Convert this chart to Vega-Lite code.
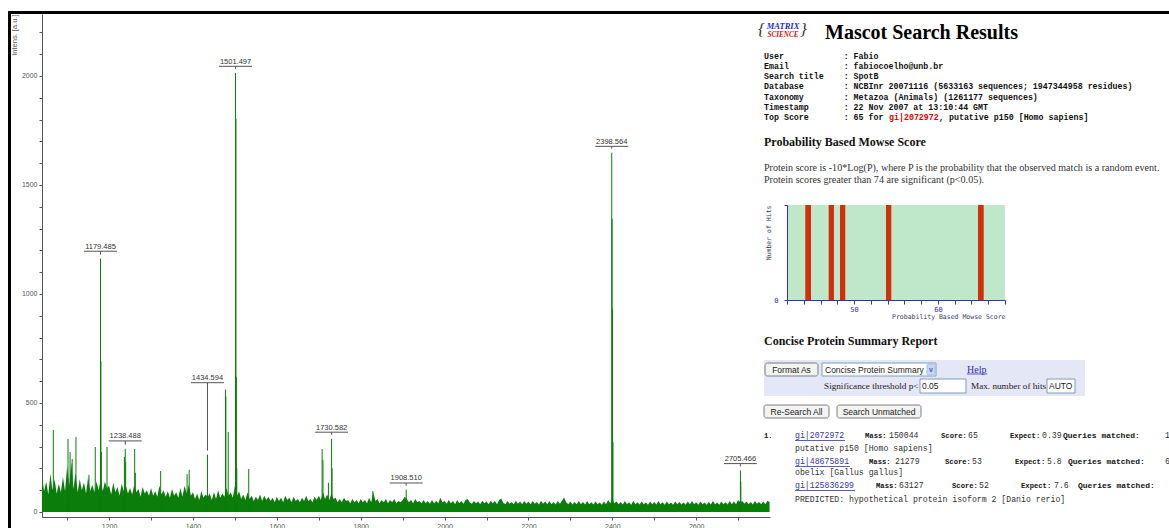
{
"$schema":"https://vega.github.io/schema/vega-lite/v6.json",
"padding":{"left":6,"top":9,"right":0,"bottom":0},
"bounds":"flush",
"spacing":0,
"config":{"view":{"stroke":null},"font":"Liberation Sans","axis":{"grid":false}},
"vconcat":[
 {"width":1163,"height":3,"view":{"fill":"#000000","stroke":null},"data":{"values":[{}]},"mark":{"type":"point","opacity":0},"encoding":{}},
 {"hconcat":[
  {"width":3,"height":516,"view":{"fill":"#000000","stroke":null},"data":{"values":[{}]},"mark":{"type":"point","opacity":0},"encoding":{}},
  {"hconcat":[
   {"width":728,"height":503,
    "encoding":{
     "x":{"field":"m","type":"quantitative","scale":{"domain":[1040,2776],"nice":false,"zero":false},
      "axis":{"values":[1100,1200,1300,1400,1500,1600,1700,1800,1900,2000,2100,2200,2300,2400,2500,2600,2700],"labelExpr":"datum.value % 200 === 0 ? datum.label : ''","format":"d","title":null,"domainColor":"#555555","tickColor":"#555555","tickSize":3,"labelFontSize":7,"labelColor":"#555555","labelPadding":2,"labelOverlap":false,"labelFlush":false}},
     "y":{"field":"i","type":"quantitative","scale":{"domain":[-23,2284],"nice":false,"zero":false},
      "axis":{"values":[0,100,200,300,400,500,600,700,800,900,1000,1100,1200,1300,1400,1500,1600,1700,1800,1900,2000,2100,2200],"labelExpr":"datum.value % 500 === 0 ? datum.label : ''","format":"d","title":"Intens. [a.u.]","titleAnchor":"end","titleFontSize":7.5,"titleFontWeight":"normal","titleColor":"#555555","titlePadding":3,"domainColor":"#555555","tickColor":"#555555","tickSize":3,"labelFontSize":7,"labelColor":"#555555","labelPadding":2,"labelOverlap":false,"labelFlush":false}}
    },
    "layer":[
     {"data":{"values":[
{"m":1040,"i":165},{"m":1045,"i":95},{"m":1050,"i":140},{"m":1055,"i":80},{"m":1060,"i":175},{"m":1065,"i":100},{"m":1070,"i":150},{"m":1075,"i":85},{"m":1080,"i":130},{"m":1085,"i":90},{"m":1090,"i":160},{"m":1095,"i":95},
{"m":1100,"i":210},{"m":1105,"i":120},{"m":1110,"i":230},{"m":1115,"i":105},{"m":1120,"i":180},{"m":1125,"i":90},{"m":1130,"i":150},{"m":1135,"i":100},{"m":1140,"i":135},{"m":1145,"i":85},{"m":1150,"i":160},{"m":1155,"i":95},{"m":1160,"i":125},{"m":1165,"i":90},{"m":1170,"i":140},{"m":1175,"i":100},{"m":1180,"i":150},{"m":1185,"i":95},{"m":1190,"i":140},{"m":1195,"i":110},
{"m":1200,"i":120},{"m":1205,"i":80},{"m":1210,"i":135},{"m":1215,"i":90},{"m":1220,"i":115},{"m":1225,"i":75},{"m":1230,"i":130},{"m":1235,"i":95},{"m":1240,"i":120},{"m":1245,"i":85},{"m":1250,"i":110},{"m":1255,"i":80},{"m":1260,"i":125},{"m":1265,"i":90},{"m":1270,"i":105},{"m":1275,"i":70},{"m":1280,"i":115},{"m":1285,"i":85},{"m":1290,"i":100},{"m":1295,"i":75},
{"m":1300,"i":110},{"m":1305,"i":75},{"m":1310,"i":95},{"m":1315,"i":70},{"m":1320,"i":120},{"m":1325,"i":80},{"m":1330,"i":100},{"m":1335,"i":70},{"m":1340,"i":95},{"m":1345,"i":65},{"m":1350,"i":105},{"m":1355,"i":75},{"m":1360,"i":90},{"m":1365,"i":65},{"m":1370,"i":110},{"m":1375,"i":70},{"m":1380,"i":120},{"m":1385,"i":85},{"m":1390,"i":125},{"m":1395,"i":75},
{"m":1400,"i":90},{"m":1405,"i":60},{"m":1410,"i":85},{"m":1415,"i":55},{"m":1420,"i":95},{"m":1425,"i":65},{"m":1430,"i":80},{"m":1435,"i":70},{"m":1440,"i":85},{"m":1445,"i":55},{"m":1450,"i":90},{"m":1455,"i":60},{"m":1460,"i":100},{"m":1465,"i":65},{"m":1470,"i":85},{"m":1475,"i":70},{"m":1480,"i":110},{"m":1485,"i":75},{"m":1490,"i":90},{"m":1495,"i":65},
{"m":1500,"i":120},{"m":1505,"i":75},{"m":1510,"i":95},{"m":1515,"i":60},{"m":1520,"i":80},{"m":1525,"i":55},{"m":1530,"i":90},{"m":1535,"i":60},{"m":1540,"i":75},{"m":1545,"i":50},{"m":1550,"i":70},{"m":1555,"i":55},{"m":1560,"i":80},{"m":1565,"i":50},{"m":1570,"i":75},{"m":1575,"i":55},{"m":1580,"i":70},{"m":1585,"i":50},{"m":1590,"i":65},{"m":1595,"i":45},
{"m":1600,"i":70},{"m":1605,"i":50},{"m":1610,"i":65},{"m":1615,"i":45},{"m":1620,"i":75},{"m":1625,"i":55},{"m":1630,"i":65},{"m":1635,"i":45},{"m":1640,"i":70},{"m":1645,"i":50},{"m":1650,"i":60},{"m":1655,"i":45},{"m":1660,"i":65},{"m":1665,"i":50},{"m":1670,"i":75},{"m":1675,"i":50},{"m":1680,"i":60},{"m":1685,"i":45},{"m":1690,"i":70},{"m":1695,"i":55},
{"m":1700,"i":75},{"m":1705,"i":55},{"m":1710,"i":90},{"m":1715,"i":60},{"m":1720,"i":80},{"m":1725,"i":55},{"m":1730,"i":85},{"m":1735,"i":60},{"m":1740,"i":65},{"m":1745,"i":45},{"m":1750,"i":60},{"m":1755,"i":45},{"m":1760,"i":65},{"m":1765,"i":50},{"m":1770,"i":55},{"m":1775,"i":40},{"m":1780,"i":60},{"m":1785,"i":45},{"m":1790,"i":55},{"m":1795,"i":40},
{"m":1800,"i":60},{"m":1805,"i":45},{"m":1810,"i":55},{"m":1815,"i":40},{"m":1820,"i":65},{"m":1825,"i":45},{"m":1830,"i":90},{"m":1835,"i":50},{"m":1840,"i":60},{"m":1845,"i":40},{"m":1850,"i":55},{"m":1855,"i":45},{"m":1860,"i":60},{"m":1865,"i":40},{"m":1870,"i":55},{"m":1875,"i":45},{"m":1880,"i":60},{"m":1885,"i":40},{"m":1890,"i":50},{"m":1895,"i":45},
{"m":1900,"i":55},{"m":1905,"i":70},{"m":1910,"i":60},{"m":1915,"i":45},{"m":1920,"i":55},{"m":1925,"i":40},{"m":1930,"i":60},{"m":1935,"i":45},{"m":1940,"i":50},{"m":1945,"i":40},{"m":1950,"i":55},{"m":1955,"i":40},{"m":1960,"i":50},{"m":1965,"i":38},{"m":1970,"i":55},{"m":1975,"i":40},{"m":1980,"i":50},{"m":1985,"i":40},{"m":1990,"i":65},{"m":1995,"i":45},
{"m":2000,"i":50},{"m":2005,"i":38},{"m":2010,"i":55},{"m":2015,"i":40},{"m":2020,"i":50},{"m":2025,"i":35},{"m":2030,"i":55},{"m":2035,"i":40},{"m":2040,"i":50},{"m":2045,"i":38},{"m":2050,"i":55},{"m":2055,"i":60},{"m":2060,"i":45},{"m":2065,"i":38},{"m":2070,"i":50},{"m":2075,"i":40},{"m":2080,"i":48},{"m":2085,"i":35},{"m":2090,"i":52},{"m":2095,"i":40},
{"m":2100,"i":48},{"m":2105,"i":36},{"m":2110,"i":52},{"m":2115,"i":40},{"m":2120,"i":50},{"m":2125,"i":35},{"m":2130,"i":55},{"m":2135,"i":62},{"m":2140,"i":42},{"m":2145,"i":36},{"m":2150,"i":50},{"m":2155,"i":38},{"m":2160,"i":46},{"m":2165,"i":35},{"m":2170,"i":52},{"m":2175,"i":38},{"m":2180,"i":48},{"m":2185,"i":36},{"m":2190,"i":50},{"m":2195,"i":38},
{"m":2200,"i":48},{"m":2205,"i":35},{"m":2210,"i":50},{"m":2215,"i":38},{"m":2220,"i":46},{"m":2225,"i":34},{"m":2230,"i":52},{"m":2235,"i":38},{"m":2240,"i":48},{"m":2245,"i":35},{"m":2250,"i":50},{"m":2255,"i":36},{"m":2260,"i":46},{"m":2265,"i":34},{"m":2270,"i":50},{"m":2275,"i":38},{"m":2280,"i":52},{"m":2285,"i":66},{"m":2290,"i":45},{"m":2295,"i":36},
{"m":2300,"i":48},{"m":2305,"i":34},{"m":2310,"i":46},{"m":2315,"i":36},{"m":2320,"i":50},{"m":2325,"i":35},{"m":2330,"i":46},{"m":2335,"i":34},{"m":2340,"i":50},{"m":2345,"i":36},{"m":2350,"i":45},{"m":2355,"i":34},{"m":2360,"i":48},{"m":2365,"i":36},{"m":2370,"i":44},{"m":2375,"i":33},{"m":2380,"i":48},{"m":2385,"i":35},{"m":2390,"i":55},{"m":2395,"i":40},
{"m":2400,"i":60},{"m":2405,"i":40},{"m":2410,"i":48},{"m":2415,"i":35},{"m":2420,"i":46},{"m":2425,"i":34},{"m":2430,"i":50},{"m":2435,"i":36},{"m":2440,"i":45},{"m":2445,"i":33},{"m":2450,"i":52},{"m":2455,"i":36},{"m":2460,"i":45},{"m":2465,"i":34},{"m":2470,"i":48},{"m":2475,"i":35},{"m":2480,"i":44},{"m":2485,"i":33},{"m":2490,"i":48},{"m":2495,"i":35},
{"m":2500,"i":46},{"m":2505,"i":34},{"m":2510,"i":50},{"m":2515,"i":36},{"m":2520,"i":45},{"m":2525,"i":33},{"m":2530,"i":48},{"m":2535,"i":35},{"m":2540,"i":44},{"m":2545,"i":33},{"m":2550,"i":48},{"m":2555,"i":35},{"m":2560,"i":46},{"m":2565,"i":34},{"m":2570,"i":44},{"m":2575,"i":33},{"m":2580,"i":48},{"m":2585,"i":35},{"m":2590,"i":50},{"m":2595,"i":36},
{"m":2600,"i":45},{"m":2605,"i":33},{"m":2610,"i":48},{"m":2615,"i":36},{"m":2620,"i":44},{"m":2625,"i":33},{"m":2630,"i":46},{"m":2635,"i":34},{"m":2640,"i":50},{"m":2645,"i":35},{"m":2650,"i":44},{"m":2655,"i":33},{"m":2660,"i":48},{"m":2665,"i":36},{"m":2670,"i":45},{"m":2675,"i":34},{"m":2680,"i":50},{"m":2685,"i":36},{"m":2690,"i":48},{"m":2695,"i":35},
{"m":2700,"i":55},{"m":2705,"i":45},{"m":2710,"i":50},{"m":2715,"i":38},{"m":2720,"i":48},{"m":2725,"i":36},{"m":2730,"i":46},{"m":2735,"i":34},{"m":2740,"i":50},{"m":2745,"i":38},{"m":2750,"i":46},{"m":2755,"i":35},{"m":2760,"i":48},{"m":2765,"i":36},{"m":2770,"i":52},{"m":2775,"i":45}
      ]},
      "mark":{"type":"area","color":"#0b7d0b","opacity":1},
      "encoding":{"y2":{"datum":0}}},
     {"data":{"values":[
{"m":1067,"i":376},{"m":1102,"i":335},{"m":1107,"i":275},{"m":1112,"i":243},{"m":1121,"i":344},{"m":1152,"i":170},{"m":1167,"i":298},{"m":1179.485,"i":1162},{"m":1180.49,"i":692},{"m":1181.49,"i":275},{"m":1195,"i":298},{"m":1236.5,"i":252},{"m":1238.488,"i":290},{"m":1239.5,"i":230},{"m":1261,"i":289},{"m":1262.5,"i":180},{"m":1323,"i":188},{"m":1386,"i":174},{"m":1391,"i":193},{"m":1434.594,"i":263},{"m":1477.5,"i":561},{"m":1478.5,"i":530},{"m":1484,"i":367},{"m":1501.497,"i":2014},{"m":1502.5,"i":1803},{"m":1503.5,"i":620},{"m":1504.5,"i":200},{"m":1533,"i":197},{"m":1708,"i":289},{"m":1710,"i":238},{"m":1723,"i":134},{"m":1730.582,"i":336},{"m":1731.6,"i":200},{"m":1829,"i":96},{"m":1908.51,"i":102},{"m":2398.564,"i":1648},{"m":2399.56,"i":1345},{"m":2400.56,"i":930},{"m":2401.56,"i":320},{"m":2705.466,"i":191},{"m":2706.47,"i":140}
      ]},
      "mark":{"type":"rule","color":"#0b7d0b","strokeWidth":1},
      "encoding":{"y2":{"datum":0}}},
     {"data":{"values":[
{"m":1179.485,"i":1196,"p":1162,"t":"1179.485"},
{"m":1238.488,"i":326,"p":290,"t":"1238.488"},
{"m":1434.594,"i":593,"p":263,"t":"1434.594"},
{"m":1501.497,"i":2044,"p":2014,"t":"1501.497"},
{"m":1730.582,"i":366,"p":336,"t":"1730.582"},
{"m":1908.51,"i":133,"p":102,"t":"1908.510"},
{"m":2398.564,"i":1677,"p":1648,"t":"2398.564"},
{"m":2705.466,"i":222,"p":191,"t":"2705.466"}
      ]},
      "layer":[
       {"mark":{"type":"rule","color":"#555555","strokeWidth":1,"xOffset":-16.5,"x2Offset":16.5},"encoding":{"x2":{"field":"m"}}},
       {"mark":{"type":"rule","color":"#555555","strokeWidth":1,"y2Offset":-4},"encoding":{"y2":{"field":"p"}}},
       {"mark":{"type":"text","color":"#333333","fontSize":7.5,"font":"Liberation Sans","baseline":"middle","align":"center","dy":-4.5},"encoding":{"text":{"field":"t","type":"nominal"}}}
      ]}
    ]},
   {"vconcat":[
     {"width":384,"height":191,
      "data":{"values":[
{"ln":1,"col":3.8,"k":"logoM","t":"MATRIX"},
{"ln":2,"col":3.8,"k":"logoS","t":"SCIENCE"},
{"ln":1,"col":-0.5,"k":"brace","t":"{"},
{"ln":1,"col":7.9,"k":"brace","t":"}"},
{"ln":2,"col":12.2,"k":"title","t":"Mascot Search Results"},
{"ln":3,"col":0,"k":"info","t":"User\u00a0\u00a0\u00a0\u00a0\u00a0\u00a0\u00a0\u00a0\u00a0\u00a0\u00a0\u00a0: Fabio"},
{"ln":4,"col":0,"k":"info","t":"Email\u00a0\u00a0\u00a0\u00a0\u00a0\u00a0\u00a0\u00a0\u00a0\u00a0\u00a0: fabiocoelho@unb.br"},
{"ln":5,"col":0,"k":"info","t":"Search title\u00a0\u00a0\u00a0\u00a0: SpotB"},
{"ln":6,"col":0,"k":"info","t":"Database\u00a0\u00a0\u00a0\u00a0\u00a0\u00a0\u00a0\u00a0: NCBInr 20071116 (5633163 sequences; 1947344958 residues)"},
{"ln":7,"col":0,"k":"info","t":"Taxonomy\u00a0\u00a0\u00a0\u00a0\u00a0\u00a0\u00a0\u00a0: Metazoa (Animals) (1261177 sequences)"},
{"ln":8,"col":0,"k":"info","t":"Timestamp\u00a0\u00a0\u00a0\u00a0\u00a0\u00a0\u00a0: 22 Nov 2007 at 13:10:44 GMT"},
{"ln":9,"col":0,"k":"info","t":"Top Score\u00a0\u00a0\u00a0\u00a0\u00a0\u00a0\u00a0: 65 for"},
{"ln":9,"col":25,"k":"red","t":"gi|2072972"},
{"ln":9,"col":35,"k":"info","t":", putative p150 [Homo sapiens]"},
{"ln":10,"col":0,"k":"h2","t":"Probability Based Mowse Score"},
{"ln":11,"col":0,"k":"para","t":"Protein score is -10*Log(P), where P is the probability that the observed match is a random event."},
{"ln":12,"col":0,"k":"para","t":"Protein scores greater than 74 are significant (p<0.05)."}
      ]},
      "encoding":{
       "x":{"field":"col","type":"quantitative","scale":{"domain":[0,80],"range":[-23,377],"nice":false,"zero":false},"axis":null},
       "y":{"field":"ln","type":"quantitative","scale":{"domain":[1,2,3,4,5,6,7,8,9,10,11,12],"range":[11.5,20.5,43,53,63,73,84,94,104,128,154,166],"nice":false,"zero":false},"axis":null},
       "text":{"field":"t","type":"nominal"}
      },
      "layer":[
       {"transform":[{"filter":"datum.k === 'logoM'"}],"mark":{"type":"text","align":"center","baseline":"middle","font":"Liberation Serif","fontStyle":"italic","fontWeight":"bold","fontSize":8.5,"color":"#2a2acc"}},
       {"transform":[{"filter":"datum.k === 'logoS'"}],"mark":{"type":"text","align":"center","baseline":"middle","font":"Liberation Serif","fontStyle":"italic","fontWeight":"bold","fontSize":7.2,"color":"#cc1111"}},
       {"transform":[{"filter":"datum.k === 'brace'"}],"mark":{"type":"text","align":"center","baseline":"middle","font":"Liberation Serif","fontStyle":"italic","fontSize":17,"color":"#333333","dy":4}},
       {"transform":[{"filter":"datum.k === 'title'"}],"mark":{"type":"text","align":"left","baseline":"middle","font":"Liberation Serif","fontWeight":"bold","fontSize":20,"color":"#000000","dy":-1.3}},
       {"transform":[{"filter":"datum.k === 'info'"}],"mark":{"type":"text","align":"left","baseline":"middle","font":"Liberation Mono","fontWeight":"bold","fontSize":8.3,"color":"#111111"}},
       {"transform":[{"filter":"datum.k === 'red'"}],"mark":{"type":"text","align":"left","baseline":"middle","font":"Liberation Mono","fontWeight":"bold","fontSize":8.3,"color":"#dd0000"}},
       {"transform":[{"filter":"datum.k === 'h2'"}],"mark":{"type":"text","align":"left","baseline":"middle","font":"Liberation Serif","fontWeight":"bold","fontSize":12,"color":"#111111"}},
       {"transform":[{"filter":"datum.k === 'para'"}],"mark":{"type":"text","align":"left","baseline":"middle","font":"Liberation Serif","fontSize":10.1,"color":"#333333"}}
      ]},
     {"width":218,"height":95,"view":{"fill":"#bfe8ca","stroke":null},
      "data":{"values":[{"s0":44.18,"s1":44.86,"h":1},{"s0":46.97,"s1":47.6,"h":1},{"s0":48.32,"s1":48.95,"h":1},{"s0":53.81,"s1":54.44,"h":1},{"s0":64.78,"s1":65.46,"h":1}]},
      "mark":{"type":"rect","color":"#d0300c"},
      "encoding":{
       "x":{"field":"s0","type":"quantitative","scale":{"domain":[42,68],"nice":false,"zero":false},
        "axis":{"values":[42,44,46,48,50,52,54,56,58,60,62,64,66,68],"labelExpr":"datum.value % 10 === 0 ? datum.label : ''","title":"Probability Based Mowse Score","titleAnchor":"end","titleFont":"DejaVu Sans Mono","titleFontSize":6.5,"titleFontWeight":"normal","titleColor":"#404060","titlePadding":1,"labelFont":"DejaVu Sans Mono","labelFontSize":7,"labelColor":"#333399","labelPadding":1,"domainColor":"#3333aa","tickColor":"#3333aa","tickSize":4,"labelOverlap":false,"labelFlush":false}},
       "x2":{"field":"s1"},
       "y":{"field":"h","type":"quantitative","scale":{"domain":[0,1],"nice":false,"zero":false},
        "axis":{"values":[0,1],"labelExpr":"datum.value === 0 ? '0' : ''","title":"Number of Hits","titleAnchor":"end","titleFont":"DejaVu Sans Mono","titleFontSize":6.5,"titleFontWeight":"normal","titleColor":"#404060","titlePadding":2,"labelFont":"DejaVu Sans Mono","labelFontSize":7,"labelColor":"#333399","labelPadding":6,"domainColor":"#3333aa","tickColor":"#3333aa","tickSize":3,"labelOverlap":false,"labelFlush":false}},
       "y2":{"datum":0}
      }},
     {"width":384,"height":230,
      "encoding":{
       "x":{"field":"col","type":"quantitative","scale":{"domain":[0,80],"range":[-23,377],"nice":false,"zero":false},"axis":null},
       "y":{"field":"ln","type":"quantitative","scale":{"domain":[1,2,3,4,5,6,7,8,9,10],"range":[41,69.5,86,111.5,136,149,162,173,186,200],"nice":false,"zero":false},"axis":null}
      },
      "layer":[
       {"data":{"values":[
{"k":"formbg","col":0,"col2":64.2,"ln":2,"ln2":3},
{"k":"btn","col":0.2,"col2":10.8,"ln":2,"ln2":2},
{"k":"sel","col":11.6,"col2":34.4,"ln":2,"ln2":2},
{"k":"arrow","col":32.6,"col2":34.2,"ln":2,"ln2":2},
{"k":"inp","col":31.2,"col2":40.4,"ln":3,"ln2":3},
{"k":"inp","col":56.6,"col2":62.2,"ln":3,"ln2":3},
{"k":"btn","col":0,"col2":13,"ln":4,"ln2":4},
{"k":"btn","col":14.6,"col2":31.4,"ln":4,"ln2":4}
        ]},
        "encoding":{"x2":{"field":"col2"},"y2":{"field":"ln2"}},
        "layer":[
         {"transform":[{"filter":"datum.k === 'formbg'"}],"mark":{"type":"rect","fill":"#e4e7f6","yOffset":-9.5,"y2Offset":10}},
         {"transform":[{"filter":"datum.k === 'btn'"}],"mark":{"type":"rect","fill":"#f3f3f1","stroke":"#7a7a7a","strokeWidth":1,"cornerRadius":2.5,"yOffset":-6.5,"y2Offset":6.5}},
         {"transform":[{"filter":"datum.k === 'sel'"}],"mark":{"type":"rect","fill":"#ffffff","stroke":"#7f9db9","strokeWidth":1,"yOffset":-6.5,"y2Offset":6.5}},
         {"transform":[{"filter":"datum.k === 'arrow'"}],"mark":{"type":"rect","fill":"#c8d7f7","stroke":"#a9bde8","strokeWidth":1,"cornerRadius":1.5,"yOffset":-5.5,"y2Offset":5.5}},
         {"transform":[{"filter":"datum.k === 'inp'"}],"mark":{"type":"rect","fill":"#ffffff","stroke":"#7f9db9","strokeWidth":1,"yOffset":-7,"y2Offset":7}}
        ]},
       {"data":{"values":[
{"ln":1,"col":0,"k":"h2","t":"Concise Protein Summary Report"},
{"ln":2,"col":5.5,"k":"btntxt","t":"Format As"},
{"ln":2,"col":12.2,"k":"field","t":"Concise Protein Summary"},
{"ln":2,"col":33.4,"k":"arrowtxt","t":"v"},
{"ln":2,"col":40.6,"k":"link","t":"Help"},
{"ln":3,"col":30.9,"k":"lblr","t":"Significance threshold p<"},
{"ln":3,"col":31.6,"k":"field","t":"0.05"},
{"ln":3,"col":41.4,"k":"lbl","t":"Max. number of hits"},
{"ln":3,"col":57,"k":"field","t":"AUTO"},
{"ln":4,"col":6.5,"k":"btntxt","t":"Re-Search All"},
{"ln":4,"col":23,"k":"btntxt","t":"Search Unmatched"},
{"ln":5,"col":0,"k":"monob","t":"1."},
{"ln":5,"col":6.2,"k":"mlink","t":"gi|2072972"},
{"ln":5,"col":20.2,"k":"monob","t":"Mass:"},
{"ln":5,"col":25,"k":"mono","t":"150044"},
{"ln":5,"col":35.4,"k":"monob","t":"Score:"},
{"ln":5,"col":40.8,"k":"mono","t":"65"},
{"ln":5,"col":49.2,"k":"monob","t":"Expect:"},
{"ln":5,"col":55.6,"k":"mono","t":"0.39"},
{"ln":5,"col":59.8,"k":"qm","t":"Queries matched:"},
{"ln":5,"col":80.2,"k":"mono","t":"1"},
{"ln":6,"col":6.2,"k":"mono","t":"putative p150 [Homo sapiens]"},
{"ln":7,"col":6.2,"k":"mlink","t":"gi|48675891"},
{"ln":7,"col":21,"k":"monob","t":"Mass:"},
{"ln":7,"col":26.2,"k":"mono","t":"21279"},
{"ln":7,"col":36.2,"k":"monob","t":"Score:"},
{"ln":7,"col":41.6,"k":"mono","t":"53"},
{"ln":7,"col":50.2,"k":"monob","t":"Expect:"},
{"ln":7,"col":56.6,"k":"mono","t":"5.8"},
{"ln":7,"col":60.8,"k":"qm","t":"Queries matched:"},
{"ln":7,"col":80.2,"k":"mono","t":"6"},
{"ln":8,"col":6.2,"k":"mono","t":"obelix [Gallus gallus]"},
{"ln":9,"col":6.2,"k":"mlink","t":"gi|125836299"},
{"ln":9,"col":22.4,"k":"monob","t":"Mass:"},
{"ln":9,"col":27,"k":"mono","t":"63127"},
{"ln":9,"col":37.6,"k":"monob","t":"Score:"},
{"ln":9,"col":43,"k":"mono","t":"52"},
{"ln":9,"col":51.4,"k":"monob","t":"Expect:"},
{"ln":9,"col":58,"k":"mono","t":"7.6"},
{"ln":9,"col":62.8,"k":"qm","t":"Queries matched:"},
{"ln":10,"col":6.2,"k":"mono","t":"PREDICTED: hypothetical protein isoform 2 [Danio rerio]"}
        ]},
        "encoding":{"text":{"field":"t","type":"nominal"}},
        "layer":[
         {"transform":[{"filter":"datum.k === 'h2'"}],"mark":{"type":"text","align":"left","baseline":"middle","font":"Liberation Serif","fontWeight":"bold","fontSize":12,"color":"#111111"}},
         {"transform":[{"filter":"datum.k === 'btntxt'"}],"mark":{"type":"text","align":"center","baseline":"middle","font":"Liberation Sans","fontSize":8.5,"color":"#222222"}},
         {"transform":[{"filter":"datum.k === 'field'"}],"mark":{"type":"text","align":"left","baseline":"middle","font":"Liberation Sans","fontSize":8.5,"color":"#222222"}},
         {"transform":[{"filter":"datum.k === 'arrowtxt'"}],"mark":{"type":"text","align":"center","baseline":"middle","font":"Liberation Sans","fontWeight":"bold","fontSize":7,"color":"#4a5f9f"}},
         {"transform":[{"filter":"datum.k === 'link'"}],"mark":{"type":"text","align":"left","baseline":"middle","font":"Liberation Serif","fontSize":10,"color":"#2a2ab0"}},
         {"transform":[{"filter":"datum.k === 'lblr'"}],"mark":{"type":"text","align":"right","baseline":"middle","font":"Liberation Serif","fontSize":9.2,"color":"#222222"}},
         {"transform":[{"filter":"datum.k === 'lbl'"}],"mark":{"type":"text","align":"left","baseline":"middle","font":"Liberation Serif","fontSize":9.2,"color":"#222222"}},
         {"transform":[{"filter":"datum.k === 'monob'"}],"mark":{"type":"text","align":"left","baseline":"middle","font":"Liberation Mono","fontWeight":"bold","fontSize":7.2,"color":"#111111"}},
         {"transform":[{"filter":"datum.k === 'qm'"}],"mark":{"type":"text","align":"left","baseline":"middle","font":"Liberation Mono","fontWeight":"bold","fontSize":8,"color":"#111111"}},
         {"transform":[{"filter":"datum.k === 'mono'"}],"mark":{"type":"text","align":"left","baseline":"middle","font":"Liberation Mono","fontSize":8.2,"color":"#333333"}},
         {"transform":[{"filter":"datum.k === 'mlink'"}],"mark":{"type":"text","align":"left","baseline":"middle","font":"Liberation Mono","fontSize":8.2,"color":"#3434a8"}}
        ]},
       {"data":{"values":[
{"col":6.2,"col2":16.2,"ln":5},
{"col":6.2,"col2":17.2,"ln":7},
{"col":6.2,"col2":18.2,"ln":9},
{"col":40.6,"col2":44.6,"ln":2}
        ]},
        "mark":{"type":"rule","color":"#3434a8","strokeWidth":0.8,"yOffset":4.5},
        "encoding":{"x2":{"field":"col2"}}}
      ]}
    ],"spacing":0,"bounds":"flush"}
  ],"spacing":17,"bounds":"flush"}
 ],"spacing":31,"bounds":"flush"}
]
}
